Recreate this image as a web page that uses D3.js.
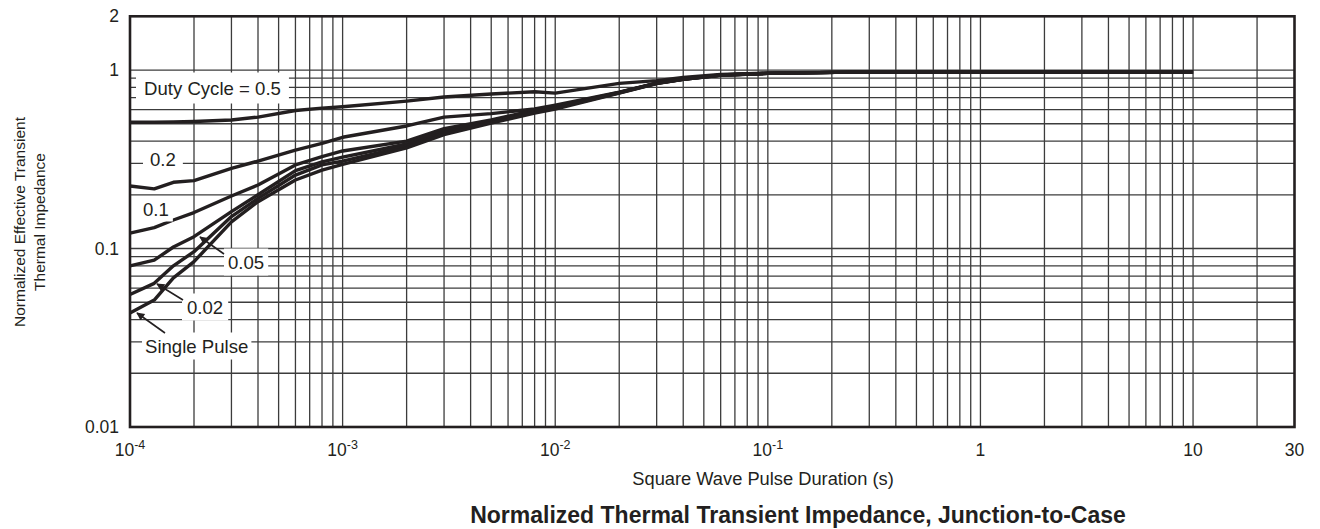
<!DOCTYPE html>
<html><head><meta charset="utf-8">
<script src="https://cdn.jsdelivr.net/npm/d3@7"></script>
<style>
body{margin:0;background:#fff}
svg{display:block}
text{font-family:"Liberation Sans",Arial,Helvetica,sans-serif;fill:#231f20}
</style>
</head><body>
<svg id="chart" width="1320" height="529"></svg>
<script>
// ---- data ----
const durations = [1e-4,1.3e-4,1.6e-4,2e-4,3e-4,4e-4,6e-4,8e-4,1e-3,2e-3,3e-3,5e-3,8e-3,1e-2,2e-2,3e-2,4e-2,6e-2,0.1,0.25,10];
const duty05 = [0.51,0.51,0.512,0.515,0.525,0.545,0.593,0.612,0.623,0.67,0.706,0.734,0.756,0.742,0.842,0.872,0.908,0.945,0.962,0.973,0.975];
const duty02 = [0.224,0.216,0.235,0.24,0.281,0.309,0.356,0.388,0.42,0.486,0.545,0.57,0.605,0.635,0.752,0.845,0.89,0.938,0.958,0.973,0.975];
const duty01 = [0.122,0.131,0.1445,0.159,0.197,0.227,0.294,0.327,0.352,0.40,0.47,0.525,0.595,0.625,0.75,0.844,0.889,0.937,0.958,0.973,0.975];
const duty005 = [0.08,0.086,0.102,0.1165,0.161,0.20,0.273,0.306,0.325,0.385,0.455,0.518,0.588,0.618,0.748,0.843,0.888,0.936,0.958,0.973,0.975];
const duty002 = [0.0553,0.0638,0.08,0.096,0.151,0.191,0.258,0.294,0.309,0.375,0.444,0.511,0.58,0.612,0.746,0.842,0.887,0.935,0.958,0.973,0.975];
const single = [0.0435,0.0514,0.0684,0.0844,0.141,0.183,0.242,0.275,0.296,0.366,0.435,0.505,0.574,0.605,0.743,0.84,0.886,0.934,0.958,0.973,0.975];
const seriesList = [duty05, duty02, duty01, duty005, duty002, single];

const yTickValues = [0.01, 0.1, 1, 2];
const yTickLabels = ["0.01", "0.1", "1", "2"];
const xTickValues = [1e-4, 1e-3, 1e-2, 1e-1, 1, 10, 30];
const xTickBase = ["10", "10", "10", "10", "1", "10", "30"];
const xTickExp = ["-4", "-3", "-2", "-1", "", "", ""];

const seriesLabels = ["Duty Cycle = 0.5", "0.2", "0.1", "0.05", "0.02", "Single Pulse"];

// ---- layout ----
const svg = d3.select("#chart");
const x = d3.scaleLog().domain([1e-4, 30]).range([130, 1294.5]);
const y = d3.scaleLog().domain([0.01, 2]).range([427, 16.3]);
const ink = "#231f20";

// grid
const vGrid = [];
for (let e = -4; e <= 1; e++) for (let m = 1; m <= 9; m++) {
  const v = m * Math.pow(10, e);
  if (v > 1e-4 * 1.0001 && v < 30 * 0.999) vGrid.push(v);
}
const hGrid = [];
for (let e = -2; e <= 0; e++) for (let m = 1; m <= 9; m++) {
  const v = m * Math.pow(10, e);
  if (v > 0.01 * 1.0001 && v < 2 * 0.999) hGrid.push(v);
}
const g = svg.append("g");
g.selectAll("line.v").data(vGrid).join("line")
  .attr("x1", d => x(d)).attr("x2", d => x(d))
  .attr("y1", y(2)).attr("y2", y(0.01))
  .attr("stroke", "#3c3c3c").attr("stroke-width", 1.3);
g.selectAll("line.h").data(hGrid).join("line")
  .attr("y1", d => y(d)).attr("y2", d => y(d))
  .attr("x1", x(1e-4)).attr("x2", x(30))
  .attr("stroke", "#3c3c3c").attr("stroke-width", 1.3);

// curves
const line = d3.line().x(d => x(d[0])).y(d => y(d[1]));
seriesList.forEach(s => {
  svg.append("path")
    .attr("d", line(durations.map((t, i) => [t, s[i]])))
    .attr("fill", "none").attr("stroke", ink).attr("stroke-width", 3.4)
    .attr("stroke-linejoin", "round");
});

// frame
svg.append("rect")
  .attr("x", x(1e-4)).attr("y", y(2))
  .attr("width", x(30) - x(1e-4)).attr("height", y(0.01) - y(2))
  .attr("fill", "none").attr("stroke", ink).attr("stroke-width", 2.6);

// y tick labels
svg.selectAll("text.yt").data(yTickValues).join("text")
  .attr("x", 119).attr("y", d => y(d))
  .attr("text-anchor", "end").attr("dominant-baseline", "central")
  .attr("font-size", 17.5)
  .text((d, i) => yTickLabels[i]);

// x tick labels
xTickValues.forEach((v, i) => {
  const t = svg.append("text")
    .attr("x", x(v)).attr("y", 456)
    .attr("text-anchor", "middle").attr("font-size", 17.5);
  t.append("tspan").text(xTickBase[i]);
  if (xTickExp[i]) t.append("tspan").attr("dy", -7).attr("font-size", 12.5).text(xTickExp[i]);
});

// axis titles
svg.append("text").attr("x", 763).attr("y", 485).attr("text-anchor", "middle")
  .attr("font-size", 18.3).text("Square Wave Pulse Duration (s)");
svg.append("text").attr("x", 798).attr("y", 523).attr("text-anchor", "middle")
  .attr("font-size", 23).attr("font-weight", "bold")
  .text("Normalized Thermal Transient Impedance, Junction-to-Case");
const yt = svg.append("text").attr("transform", "translate(25,222) rotate(-90)")
  .attr("text-anchor", "middle").attr("font-size", 15.5);
yt.append("tspan").attr("x", 0).attr("dy", 0).text("Normalized Effective Transient");
yt.append("tspan").attr("x", 0).attr("dy", 20).text("Thermal Impedance");

// series labels with white boxes
const labelPos = [[144, 88], [150, 159], [143, 209], [228, 262], [187, 307], [145, 346]];
const labelPad = [[8, 10], [7, 6], [4, 4], [4, 6], [5, 6], [3, 6]];
seriesLabels.forEach((txt, i) => {
  const grp = svg.append("g");
  const r = grp.append("rect").attr("fill", "#fff");
  const t = grp.append("text").attr("x", labelPos[i][0]).attr("y", labelPos[i][1])
    .attr("dominant-baseline", "central").attr("font-size", 18.6).text(txt);
  const b = t.node().getBBox();
  r.attr("x", b.x - labelPad[i][0]).attr("y", b.y - labelPad[i][1] / 2)
   .attr("width", b.width + 2 * labelPad[i][0]).attr("height", b.height + labelPad[i][1]);
});

// arrows
const defs = svg.append("defs");
defs.append("marker").attr("id", "ah").attr("viewBox", "0 0 10 10")
  .attr("refX", 9).attr("refY", 5).attr("markerWidth", 10).attr("markerHeight", 8)
  .attr("markerUnits", "userSpaceOnUse").attr("orient", "auto")
  .append("path").attr("d", "M0,0 L10,5 L0,10 z").attr("fill", ink);
const arrows = [[224, 254, 200, 237], [183, 300, 157, 284], [165, 333, 137, 313]];
arrows.forEach(a => {
  svg.append("line").attr("x1", a[0]).attr("y1", a[1]).attr("x2", a[2]).attr("y2", a[3])
    .attr("stroke", ink).attr("stroke-width", 1.6).attr("marker-end", "url(#ah)");
});
</script>
</body></html>
